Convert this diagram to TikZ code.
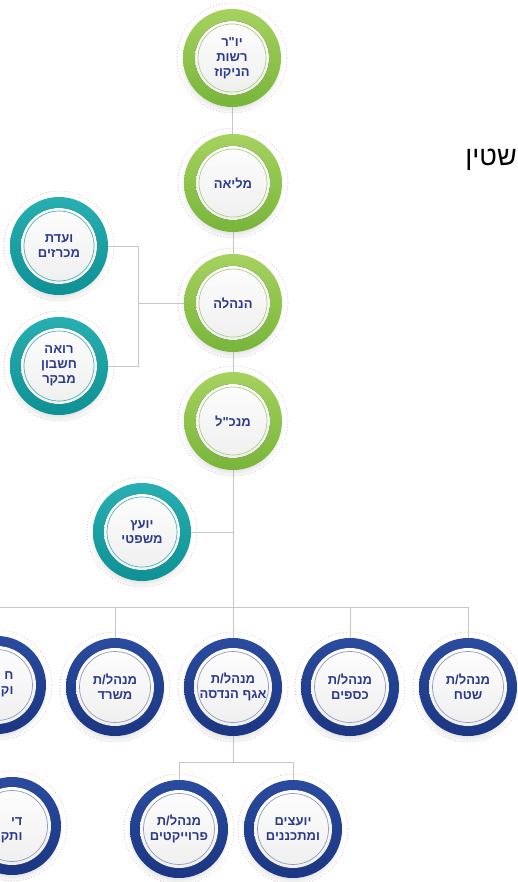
\documentclass[tikz,border=0pt]{standalone}
\usepackage{fontspec}
\newfontfamily\hebfont[Script=Hebrew]{Liberation Sans}
\TeXXeTstate=1
\usetikzlibrary{shadows,backgrounds}
\newcommand\heb[1]{\beginR #1\endR}
\definecolor{grtop}{HTML}{A6D25E}
\definecolor{grbot}{HTML}{78B53A}
\definecolor{grline}{HTML}{A9D574}
\definecolor{tltop}{HTML}{27AFB1}
\definecolor{tlbot}{HTML}{0E9194}
\definecolor{tlline}{HTML}{47B8B8}
\definecolor{bltop}{HTML}{2A4B9F}
\definecolor{blbot}{HTML}{1B3682}
\definecolor{blline}{HTML}{8F9CC0}
\definecolor{txt}{HTML}{2B3A8C}
\definecolor{conn}{HTML}{C6C6C6}
\definecolor{halo}{HTML}{C9A9A9}
\tikzset{
  orgc/.style={circle, minimum size=98pt, inner sep=0pt, align=center, text=txt,
    font=\hebfont\bfseries\fontsize{13}{15}\selectfont,
    circular drop shadow={shadow xshift=-1pt, shadow yshift=-4pt, opacity=0.22, shadow scale=1.05}},
  greenc/.style={orgc, top color=grtop, bottom color=grbot,
    path picture={\fill[top color=white, bottom color=gray!14] (path picture bounding box.center) circle (37pt);
      \draw[grline, line width=0.7pt] (path picture bounding box.center) circle (34pt);}},
  tealc/.style={orgc, top color=tltop, bottom color=tlbot,
    path picture={\fill[top color=white, bottom color=gray!14] (path picture bounding box.center) circle (38pt);
      \draw[tlline, line width=0.7pt] (path picture bounding box.center) circle (35pt);}},
  bluec/.style={orgc, minimum size=98pt, top color=bltop, bottom color=blbot,
    path picture={\fill[top color=white, bottom color=gray!14] (path picture bounding box.center) circle (39pt);
      \draw[blline, line width=0.7pt] (path picture bounding box.center) circle (35.5pt);}},
  haloc/.style={halo, line width=0.7pt, dash pattern=on 0.4pt off 2.6pt, line cap=round, opacity=0.8},
  connector/.style={conn, line width=0.8pt},
  partial/.style={text=txt, align=right, inner sep=0pt, font=\hebfont\bfseries\fontsize{13}{15}\selectfont}
}
\begin{document}
\begin{tikzpicture}[x=1pt,y=-1pt]
\useasboundingbox (0,0) rectangle (518,882);
% green column
\node[greenc] (chair) at (232,58) {\heb{יו"ר}\\\heb{רשות}\\\heb{הניקוז}};
\node[greenc] (plenary) at (233,183) {\heb{מליאה}};
\node[greenc] (board) at (233,303) {\heb{הנהלה}};
\node[greenc] (ceo) at (233,421) {\heb{מנכ"ל}};
% teal
\node[tealc] (committee) at (59,246) {\heb{ועדת}\\\heb{מכרזים}};
\node[tealc] (auditor) at (59,366) {\heb{רואה}\\\heb{חשבון}\\\heb{מבקר}};
\node[tealc] (legal) at (142,532) {\heb{יועץ}\\\heb{משפטי}};
% blue row
\node[bluec] (area) at (468,687) {\heb{מנהל/ת}\\\heb{שטח}};
\node[bluec] (finance) at (350,687) {\heb{מנהל/ת}\\\heb{כספים}};
\node[bluec] (eng) at (233,687) {\heb{מנהל/ת}\\\heb{אגף הנדסה}};
\node[bluec] (office) at (115,687) {\heb{מנהל/ת}\\\heb{משרד}};
\node[bluec] (left1) at (-3,685) {};
\node[partial, anchor=west] (left1t) at (0.8,684) {\heb{ח}\\\heb{וק}};
% second row
\node[bluec] (projects) at (179,829) {\heb{מנהל/ת}\\\heb{פרוייקטים}};
\node[bluec] (consultants) at (293,829) {\heb{יועצים}\\\heb{ומתכננים}};
\node[bluec] (left2) at (12,826) {};
\node[partial, anchor=west] (left2t) at (0.8,830) {\heb{די}\\\heb{ותק}};
% stray text
\node[anchor=base east, inner sep=0pt, font=\hebfont\fontsize{27}{30}\selectfont] (stein) at (517,166) {\heb{שטין}};
% junctions
\coordinate (bk) at (138,303);
\coordinate (hbar) at (233,607);
\coordinate (hbarL) at (-3,607);
\coordinate (legj) at (233,532);
\coordinate (ej) at (233,762);
\begin{pgfonlayer}{background}
\fill[white] (0,0) rectangle (518,882);
\foreach \n in {chair,plenary,board,ceo,committee,auditor,legal,area,finance,eng,office,left1,projects,consultants,left2}
  \draw[haloc] (\n.center) circle (55pt);
\draw[connector] (chair) -- (plenary);
\draw[connector] (plenary) -- (board);
\draw[connector] (board) -- (ceo);
\draw[connector] (ceo) -- (hbar);
\draw[connector] (board) -- (bk);
\draw[connector] (committee) -| (bk);
\draw[connector] (auditor) -| (bk);
\draw[connector] (legal) -- (legj);
\draw[connector] (hbarL) -- (hbar -| area);
\draw[connector] (hbar) -| (area);
\draw[connector] (hbar) -| (finance);
\draw[connector] (hbar) -- (eng);
\draw[connector] (hbar) -| (office);
\draw[connector] (hbar) -| (left1);
\draw[connector] (eng) -- (ej);
\draw[connector] (ej) -| (projects);
\draw[connector] (ej) -| (consultants);
\end{pgfonlayer}
\end{tikzpicture}
\end{document}
